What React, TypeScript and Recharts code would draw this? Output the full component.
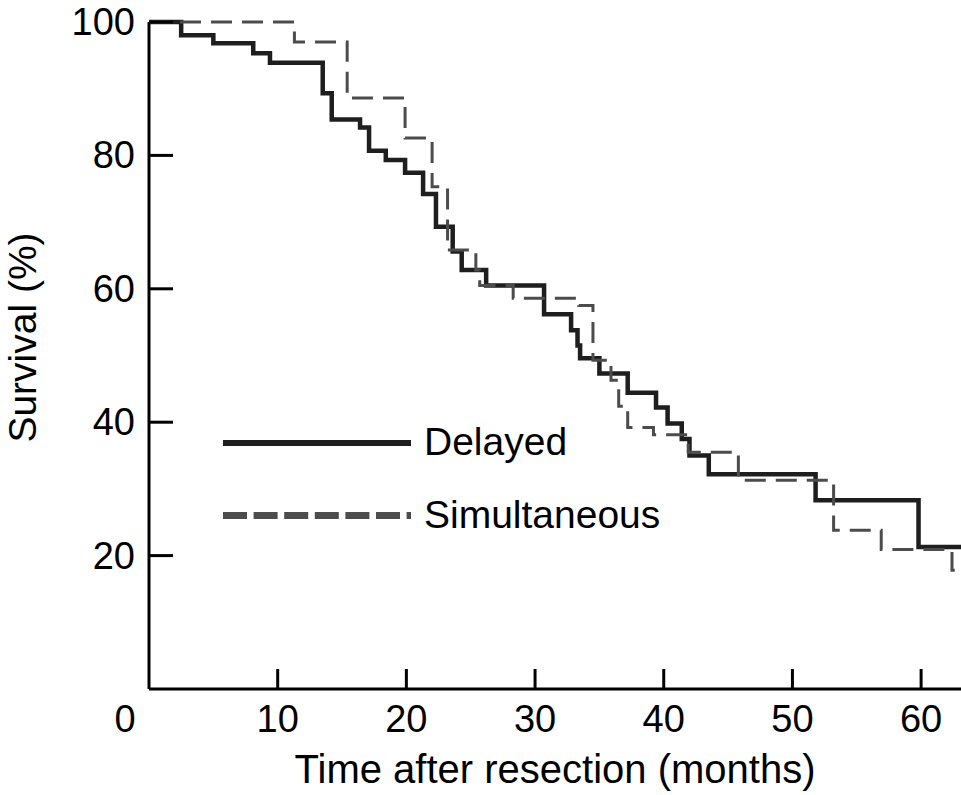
import React from 'react';
import { LineChart, Line, XAxis, YAxis, Legend, Label } from 'recharts';

const delayedMonths = [0, 2.5, 5.0, 8.1, 9.4, 13.5, 14.2, 16.4, 17.1, 18.4, 19.9, 21.3, 22.3, 23.6, 24.3, 26.2, 30.7, 32.8, 33.3, 33.5, 35.0, 37.2, 39.4, 40.3, 41.4, 42.0, 43.5, 51.8, 59.8, 63.1];
const delayedSurvival = [100, 98.0, 96.8, 95.3, 93.9, 89.3, 85.4, 84.2, 80.7, 79.3, 77.4, 74.2, 69.3, 65.6, 62.8, 60.5, 56.2, 53.8, 51.5, 49.6, 47.3, 44.4, 42.2, 39.8, 37.5, 35.0, 32.2, 28.3, 21.3, 21.3];

const simultaneousMonths = [0, 11.3, 15.4, 19.9, 22.0, 23.2, 25.4, 25.7, 28.3, 33.4, 34.5, 35.9, 36.5, 37.2, 39.2, 41.9, 45.8, 53.2, 56.9, 62.4, 63.1];
const simultaneousSurvival = [100, 97.0, 88.6, 82.6, 75.3, 65.8, 62.8, 60.5, 58.6, 57.5, 49.3, 46.3, 42.4, 39.2, 38.1, 35.5, 31.3, 23.8, 20.9, 17.8, 17.8];

const xTicks = [0, 10, 20, 30, 40, 50, 60];
const yTicks = [20, 40, 60, 80, 100];
const seriesNames = ['Delayed', 'Simultaneous'];
const xTitle = 'Time after resection (months)';
const yTitle = 'Survival (%)';

const delayedData = delayedMonths.map((t, i) => ({ t, v: delayedSurvival[i] }));
const simultaneousData = simultaneousMonths.map((t, i) => ({ t, v: simultaneousSurvival[i] }));

const FONT = '"Liberation Sans", Arial, Helvetica, sans-serif';
const SOLID = '#1e1e1e';
const DASHED = '#4c4c4c';

const XTick = (props: any) => {
  const { x, y, payload } = props;
  const isZero = payload.value === 0;
  return (
    <g>
      {!isZero && <line x1={x} y1={y} x2={x} y2={y - 20} stroke="#000" strokeWidth={3} />}
      <text x={isZero ? x - 24 : x} y={y + 43} textAnchor="middle" fontSize={38} fontFamily={FONT} fill="#000">
        {payload.value}
      </text>
    </g>
  );
};

const YTick = (props: any) => {
  const { x, y, payload } = props;
  return (
    <g>
      <line x1={x} y1={y} x2={x + 24} y2={y} stroke="#000" strokeWidth={3} />
      <text x={x - 14} y={y + 13} textAnchor="end" fontSize={38} fontFamily={FONT} fill="#000">
        {payload.value}
      </text>
    </g>
  );
};

const XTitle = (props: any) => {
  const vb = props.viewBox || { x: 149, y: 689, width: 812, height: 106 };
  return (
    <text x={vb.x + vb.width / 2} y={vb.y + 94} textAnchor="middle" fontSize={40} fontFamily={FONT} fill="#000">
      {xTitle}
    </text>
  );
};

const YTitle = (props: any) => {
  const vb = props.viewBox || { x: 0, y: 22, width: 149, height: 667 };
  const cx = 36;
  const cy = vb.y + vb.height / 2 - 18;
  return (
    <text x={cx} y={cy} transform={`rotate(-90 ${cx} ${cy})`} textAnchor="middle" fontSize={39} fontFamily={FONT} fill="#000">
      {yTitle}
    </text>
  );
};

const LegendBox = () => (
  <svg width={470} height={130} style={{ display: 'block' }}>
    <line x1={8} y1={33} x2={196} y2={33} stroke={SOLID} strokeWidth={6} />
    <text x={209} y={45} fontSize={39} fontFamily={FONT} fill="#000">{seriesNames[0]}</text>
    <line x1={8} y1={105.5} x2={196} y2={105.5} stroke={DASHED} strokeWidth={7} strokeDasharray="24 6.6" />
    <text x={209} y={118} fontSize={39} fontFamily={FONT} fill="#000">{seriesNames[1]}</text>
  </svg>
);

export default function App() {
  return (
    <div style={{ position: 'absolute', left: 0, top: 0, width: 961, height: 795, background: '#fff' }}>
      <LineChart width={961} height={795} margin={{ top: 22, right: 0, bottom: 0, left: 0 }}>
        <XAxis
          type="number"
          dataKey="t"
          domain={[0, 63.1]}
          ticks={xTicks}
          interval={0}
          height={106}
          tickSize={0}
          tickMargin={0}
          tickLine={false}
          axisLine={{ stroke: '#000', strokeWidth: 3 }}
          tick={<XTick />}
          allowDataOverflow
        >
          <Label content={<XTitle />} />
        </XAxis>
        <YAxis
          type="number"
          domain={[0, 100]}
          ticks={yTicks}
          interval={0}
          width={149}
          tickSize={0}
          tickMargin={0}
          tickLine={false}
          axisLine={{ stroke: '#000', strokeWidth: 3 }}
          tick={<YTick />}
        >
          <Label content={<YTitle />} />
        </YAxis>
        <Legend
          verticalAlign="middle"
          align="center"
          layout="horizontal"
          wrapperStyle={{ position: 'absolute', left: 215, top: 410, width: 470, height: 130 }}
          content={() => <LegendBox />}
        />
        <Line
          data={delayedData}
          dataKey="v"
          name={seriesNames[0]}
          type="stepAfter"
          stroke={SOLID}
          strokeWidth={4.5}
          dot={false}
          activeDot={false}
          isAnimationActive={false}
        />
        <Line
          data={simultaneousData}
          dataKey="v"
          name={seriesNames[1]}
          type="stepAfter"
          stroke={DASHED}
          strokeWidth={3}
          strokeDasharray="21 10"
          dot={false}
          activeDot={false}
          isAnimationActive={false}
        />
      </LineChart>
    </div>
  );
}
